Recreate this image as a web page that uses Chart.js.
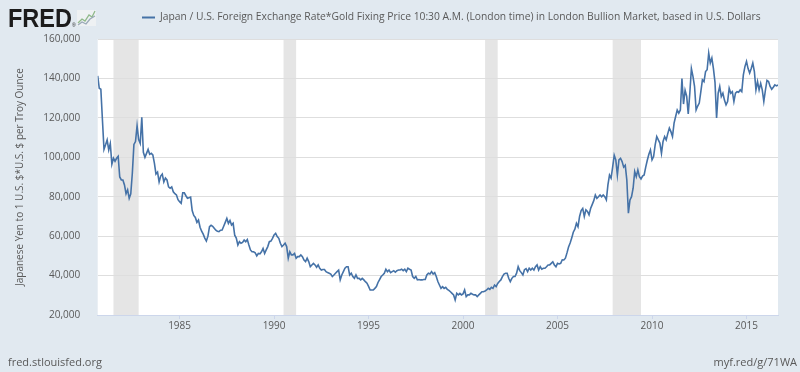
<!DOCTYPE html>
<html>
<head>
<meta charset="utf-8">
<script src="https://cdn.jsdelivr.net/npm/chart.js@4.4.4/dist/chart.umd.min.js"></script>
<style>
  html, body { margin: 0; padding: 0; background: #e1e9f0; }
  #chart { display: block; }
</style>
</head>
<body>
<canvas id="chart" width="800" height="372"></canvas>
<script>
// FRED graph: Japan/US FX rate * London gold fixing (yen per troy ounce), monthly
const seriesTitle = 'Japan / U.S. Foreign Exchange Rate*Gold Fixing Price 10:30 A.M. (London time) in London Bullion Market, based in U.S. Dollars';
const yAxisTitle = 'Japanese Yen to 1 U.S. $*U.S. $ per Troy Ounce';
const firstMonth = '1980-09';

// monthly values, 1980-09 .. 2016-09
const yenPerOunce = [
  141300, 135000, 134500, 119000, 104000, 106300, 108800, 103700, 107000, 96500,
  99500, 98000, 99500, 100500, 90000, 88500, 88500, 86000, 81500, 83500,
  79200, 81500, 92000, 106500, 108000, 116000, 109000, 107000, 120300, 102500,
  100000, 102000, 104000, 101500, 102000, 101200, 97000, 91500, 92500, 87500,
  90500, 91500, 87500, 89500, 88500, 85000, 84300, 85000, 82500, 81500,
  80900, 78500, 77500, 76700, 82000, 82000, 80500, 79200, 79500, 79800,
  73000, 70500, 69500, 67000, 68200, 64500, 62500, 61000, 59000, 57500,
  60000, 64800, 65500, 65000, 64000, 63000, 62500, 62300, 63000, 63100,
  65000, 67000, 69000, 66500, 68000, 65700, 66500, 60500, 59000, 55500,
  57200, 56400, 56800, 58000, 57200, 58300, 55500, 53000, 52100, 52100,
  51600, 50000, 51200, 51000, 52100, 53800, 51200, 53000, 54700, 57200,
  57500, 58900, 60600, 61400, 59800, 58900, 56400, 54700, 55500, 56400,
  54700, 48800, 52100, 50500, 50500, 51200, 48800, 49600, 49600, 50500,
  49600, 47900, 47100, 48800, 47100, 44500, 45400, 46200, 45400, 44200,
  45400, 43700, 42800, 43100, 43100, 42000, 41500, 41200, 40800,
  39500, 40300, 41200, 42000, 42800, 37800, 40300, 42000, 43700, 44500,
  44500, 40300, 41200, 39500, 38600, 40300, 38600, 38600, 37800, 38600,
  37800, 36900, 36100, 34500, 32700, 32700, 32700, 33500, 34400, 36500,
  38000, 39500, 40300, 41200, 43200, 42000, 42800, 41500, 42000, 42500,
  41700, 42500, 42800, 42800, 43200, 42500, 43200, 42000, 43700, 43200,
  42800, 39500, 38600, 39500, 37800, 38000, 37800, 37800, 38000, 38000,
  40300, 41200, 40800, 42000, 40800, 41500, 39500, 37000, 35200, 33500,
  34400, 33500, 34000, 33000, 32500, 31800, 31000, 30200, 27600, 31000,
  30200, 31000, 30200, 30700, 32700, 29300, 30200, 30200, 31000, 30500,
  30200, 30200, 29300, 30200, 31000, 31800, 31800, 32200, 32700, 33500,
  33000, 34000, 33500, 35200, 34400, 36000, 37000, 37800, 39500, 40800,
  41200, 41200, 38600, 36900, 38600, 39500, 39500, 41200, 44500, 42500,
  41500, 40300, 43000, 43500, 42000, 43700, 42800, 43700, 42800, 44500,
  45400, 42800, 44500, 43200, 43700, 43700, 44500, 45400, 45400,
  46200, 47000, 45400, 44500, 46200, 45900, 46200, 48000, 47900, 48800,
  51500, 54500, 56500, 59000, 62000, 63500, 66500, 64800, 70000, 73000,
  74100, 70000, 73300, 72500, 70800, 74000, 76000, 78000, 80900, 79200,
  80000, 80900, 80000, 80900, 80000, 78400, 86000, 91000, 89400, 95000,
  101000, 98700, 91000, 98700, 99500, 97800, 95000, 96000, 88500, 71600,
  78400, 80000, 84300, 92800, 90200, 93600, 90200, 89000, 90500, 91000,
  95000, 98500, 101500, 103700, 98700, 100400, 106300, 110500, 108800, 107200,
  102000, 108000, 110500, 108800, 112000, 114800, 113000, 110500, 117300, 120700,
  124000, 122400, 124000, 140000, 127000, 134000, 131000, 122000, 132500, 145000,
  141000, 136000, 124000, 126000, 127500, 133300, 139300, 138400, 143500, 144400,
  152800, 147800, 150300, 145000, 138000, 120000, 132500, 135900, 130800, 132500,
  129000, 126600, 128300, 135000, 132500, 133300, 128300, 132500, 133300, 133000,
  134200, 133300, 141800, 146000, 148600, 145000, 142700, 145000, 147800, 143500,
  134200, 138400, 134200, 137500, 134200, 128300, 134000, 139000, 138400, 135900,
  134500, 135500, 136700, 136200, 136700
];

const yearTicks = [1985, 1990, 1995, 2000, 2005, 2010, 2015];
const yMin = 20000;
const yMax = 160000;
const yStep = 20000;

// NBER recessions (shaded)
const recessionStart = ['1981-07', '1990-07', '2001-03', '2007-12'];
const recessionEnd = ['1982-11', '1991-03', '2001-11', '2009-06'];

function monthToYear(s) {
  const parts = s.split('-').map(Number);
  return parts[0] + (parts[1] - 1) / 12;
}

const t0 = monthToYear(firstMonth);
const points = yenPerOunce.map((v, i) => ({ x: t0 + i / 12, y: v }));
const tEnd = t0 + (yenPerOunce.length - 1) / 12;

const textGray = '#595959';
const lineBlue = '#4572a7';
const font = '"Open Sans", sans-serif';

Chart.defaults.font.family = font;

const fredBackdrop = {
  id: 'fredBackdrop',
  beforeDraw(chart) {
    const { ctx, chartArea: a, scales: { x } } = chart;
    ctx.save();
    ctx.fillStyle = '#e1e9f0';
    ctx.fillRect(0, 0, chart.width, chart.height);
    ctx.fillStyle = '#ffffff';
    ctx.fillRect(a.left, a.top, a.right - a.left, a.bottom - a.top);
    ctx.fillStyle = '#e5e5e5';
    recessionStart.forEach((s, i) => {
      const x0 = Math.max(a.left, x.getPixelForValue(monthToYear(s)));
      const x1 = Math.min(a.right, x.getPixelForValue(monthToYear(recessionEnd[i])));
      ctx.fillRect(x0, a.top, x1 - x0, a.bottom - a.top);
    });
    ctx.restore();
  },
  afterDraw(chart) {
    const ctx = chart.ctx;
    ctx.save();
    // logo
    ctx.fillStyle = '#1c1c1c';
    ctx.font = 'bold 26px "Liberation Sans", sans-serif';
    ctx.textBaseline = 'alphabetic';
    const w = ctx.measureText('FRED').width;
    ctx.save();
    ctx.translate(8, 27);
    ctx.scale(64 / w, 1);
    ctx.fillText('FRED', 0, 0);
    ctx.restore();
    ctx.font = '5px sans-serif';
    ctx.fillText('\u00ae', 72, 27);
    // little chart icon
    ctx.fillStyle = '#eef1f3';
    ctx.fillRect(77, 10, 19, 16);
    ctx.lineWidth = 1.3;
    ctx.strokeStyle = '#8fb98a';
    ctx.beginPath();
    ctx.moveTo(78, 23); ctx.lineTo(82, 19); ctx.lineTo(85, 21); ctx.lineTo(89, 15); ctx.lineTo(92, 17); ctx.lineTo(95, 11);
    ctx.stroke();
    ctx.strokeStyle = '#9aa9b8';
    ctx.beginPath();
    ctx.moveTo(78, 25); ctx.lineTo(82, 22); ctx.lineTo(86, 24); ctx.lineTo(90, 19); ctx.lineTo(95, 16);
    ctx.stroke();
    // legend
    ctx.strokeStyle = lineBlue;
    ctx.lineWidth = 2;
    ctx.beginPath();
    ctx.moveTo(142, 17.5);
    ctx.lineTo(155, 17.5);
    ctx.stroke();
    ctx.fillStyle = textGray;
    ctx.font = '10.3px ' + font;
    ctx.textBaseline = 'middle';
    ctx.textAlign = 'left';
    ctx.fillText(seriesTitle, 160, 17);
    // footer
    ctx.font = '11px ' + font;
    ctx.fillText('fred.stlouisfed.org', 8, 363);
    ctx.textAlign = 'right';
    ctx.fillText('myf.red/g/71WA', 797, 363);
    ctx.restore();
  }
};

new Chart(document.getElementById('chart'), {
  type: 'line',
  data: {
    datasets: [{
      label: seriesTitle,
      data: points,
      borderColor: lineBlue,
      borderWidth: 1.6,
      pointRadius: 0,
      fill: false,
      tension: 0
    }]
  },
  options: {
    responsive: false,
    animation: false,
    devicePixelRatio: 1,
    layout: { padding: { top: 39, right: 22, bottom: 0, left: 0 } },
    plugins: { legend: { display: false }, tooltip: { enabled: false } },
    scales: {
      x: {
        type: 'linear',
        min: t0,
        max: tEnd,
        afterBuildTicks: (s) => { s.ticks = yearTicks.map(v => ({ value: v })); },
        afterFit: (s) => { s.height = 57; },
        ticks: {
          color: textGray,
          font: { size: 10 },
          padding: 1,
          maxRotation: 0,
          autoSkip: false,
          callback: (v) => String(v)
        },
        grid: { drawOnChartArea: false, drawTicks: true, tickLength: 4, color: '#ccd6eb' },
        border: { display: true, color: '#ccd6eb' }
      },
      y: {
        min: yMin,
        max: yMax,
        afterFit: (s) => { s.width = 97.7; },
        ticks: {
          stepSize: yStep,
          color: textGray,
          font: { size: 10 },
          padding: 17.5,
          callback: (v) => v.toLocaleString('en-US')
        },
        grid: { color: '#dedede', drawTicks: false },
        border: { display: false },
        title: {
          display: true,
          text: yAxisTitle,
          color: textGray,
          font: { size: 10 },
          padding: { top: 14, bottom: 0 }
        }
      }
    }
  },
  plugins: [fredBackdrop]
});
</script>
</body>
</html>
